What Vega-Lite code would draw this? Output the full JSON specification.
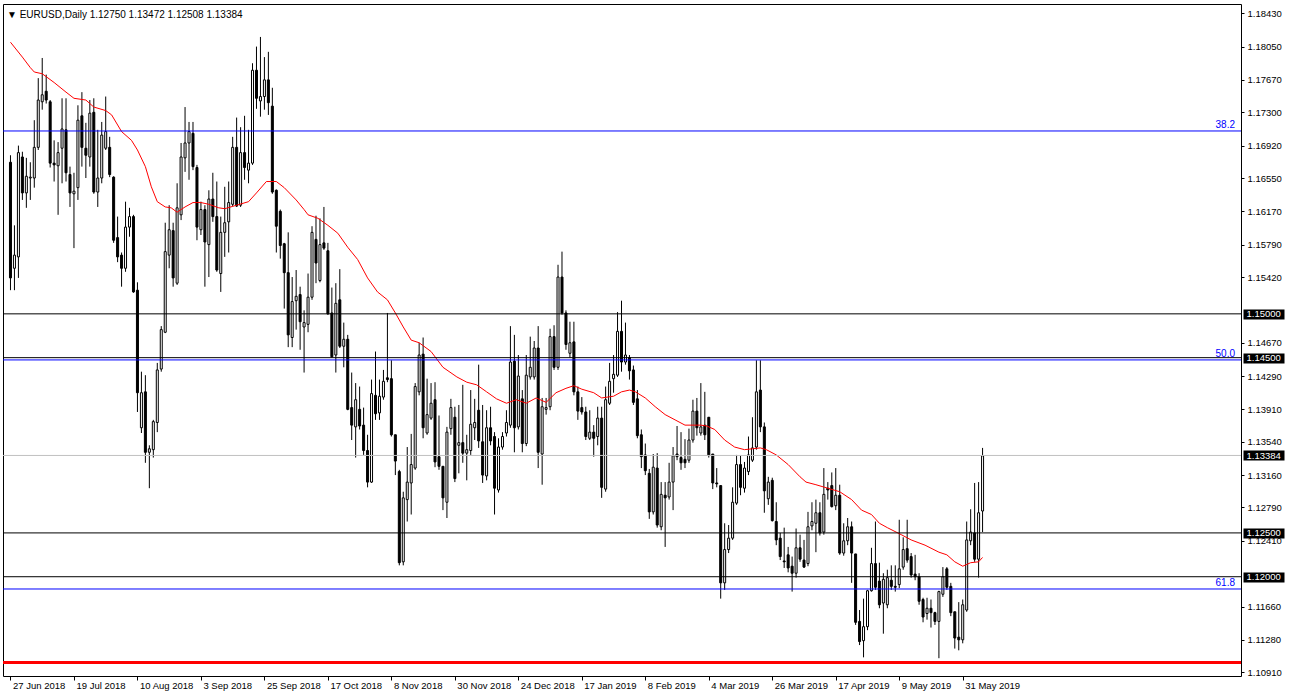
{
"$schema": "https://vega.github.io/schema/vega-lite/v6.json",
"width": 1238, "height": 672,
"autosize": {"type": "none"},
"padding": {"left": 3, "top": 4, "right": 48, "bottom": 22},
"background": "#FFFFFF",
"config": {"view": {"stroke": "#000000", "strokeWidth": 1}, "font": "Liberation Sans"},
"title": {"text": "▼ EURUSD,Daily  1.12750 1.13472 1.12508 1.13384", "anchor": "start", "frame": "group", "orient": "top", "offset": -24, "dx": 4, "font": "Liberation Sans", "fontSize": 10, "fontWeight": "normal", "color": "#000000", "baseline": "alphabetic"},
"datasets": {
"candles": [
{"i":0,"o":1.1673,"h":1.1681,"l":1.1527,"c":1.1541},
{"i":1,"o":1.1552,"h":1.1601,"l":1.1527,"c":1.1567},
{"i":2,"o":1.1565,"h":1.1692,"l":1.1541,"c":1.1684},
{"i":3,"o":1.1679,"h":1.1685,"l":1.1630,"c":1.1638},
{"i":4,"o":1.1638,"h":1.1678,"l":1.1621,"c":1.1657},
{"i":5,"o":1.1655,"h":1.1673,"l":1.1630,"c":1.1656},
{"i":6,"o":1.1655,"h":1.1721,"l":1.1644,"c":1.1690},
{"i":7,"o":1.1690,"h":1.1769,"l":1.1687,"c":1.1744},
{"i":8,"o":1.1742,"h":1.1792,"l":1.1733,"c":1.1750},
{"i":9,"o":1.1754,"h":1.1773,"l":1.1740,"c":1.1744},
{"i":10,"o":1.1742,"h":1.1744,"l":1.1667,"c":1.1672},
{"i":11,"o":1.1672,"h":1.1698,"l":1.1651,"c":1.1670},
{"i":12,"o":1.1669,"h":1.1696,"l":1.1613,"c":1.1684},
{"i":13,"o":1.1689,"h":1.1746,"l":1.1649,"c":1.1711},
{"i":14,"o":1.1710,"h":1.1746,"l":1.1651,"c":1.1661},
{"i":15,"o":1.1659,"h":1.1668,"l":1.1622,"c":1.1638},
{"i":16,"o":1.1637,"h":1.1661,"l":1.1575,"c":1.1640},
{"i":17,"o":1.1644,"h":1.1738,"l":1.1630,"c":1.1721},
{"i":18,"o":1.1726,"h":1.1753,"l":1.1668,"c":1.1690},
{"i":19,"o":1.1689,"h":1.1718,"l":1.1655,"c":1.1681},
{"i":20,"o":1.1679,"h":1.1744,"l":1.1668,"c":1.1729},
{"i":21,"o":1.1730,"h":1.1746,"l":1.1637,"c":1.1639},
{"i":22,"o":1.1639,"h":1.1710,"l":1.1622,"c":1.1655},
{"i":23,"o":1.1655,"h":1.1719,"l":1.1649,"c":1.1704},
{"i":24,"o":1.1689,"h":1.1748,"l":1.1687,"c":1.1708},
{"i":25,"o":1.1690,"h":1.1702,"l":1.1656,"c":1.1659},
{"i":26,"o":1.1656,"h":1.1657,"l":1.1581,"c":1.1584},
{"i":27,"o":1.1587,"h":1.1611,"l":1.1559,"c":1.1565},
{"i":28,"o":1.1567,"h":1.1570,"l":1.1531,"c":1.1552},
{"i":29,"o":1.1552,"h":1.1628,"l":1.1548,"c":1.1599},
{"i":30,"o":1.1599,"h":1.1621,"l":1.1588,"c":1.1611},
{"i":31,"o":1.1611,"h":1.1613,"l":1.1524,"c":1.1525},
{"i":32,"o":1.1527,"h":1.1536,"l":1.1388,"c":1.1410},
{"i":33,"o":1.1370,"h":1.1434,"l":1.1364,"c":1.1410},
{"i":34,"o":1.1411,"h":1.1430,"l":1.1330,"c":1.1342},
{"i":35,"o":1.1342,"h":1.1350,"l":1.1301,"c":1.1346},
{"i":36,"o":1.1345,"h":1.1379,"l":1.1336,"c":1.1377},
{"i":37,"o":1.1376,"h":1.1444,"l":1.1365,"c":1.1436},
{"i":38,"o":1.1437,"h":1.1486,"l":1.1434,"c":1.1482},
{"i":39,"o":1.1479,"h":1.1604,"l":1.1478,"c":1.1571},
{"i":40,"o":1.1567,"h":1.1624,"l":1.1552,"c":1.1596},
{"i":41,"o":1.1595,"h":1.1604,"l":1.1531,"c":1.1541},
{"i":42,"o":1.1535,"h":1.1649,"l":1.1533,"c":1.1621},
{"i":43,"o":1.1613,"h":1.1695,"l":1.1607,"c":1.1679},
{"i":44,"o":1.1678,"h":1.1736,"l":1.1662,"c":1.1695},
{"i":45,"o":1.1695,"h":1.1719,"l":1.1653,"c":1.1708},
{"i":46,"o":1.1706,"h":1.1719,"l":1.1664,"c":1.1668},
{"i":47,"o":1.1667,"h":1.1670,"l":1.1584,"c":1.1599},
{"i":48,"o":1.1596,"h":1.1628,"l":1.1590,"c":1.1619},
{"i":49,"o":1.1619,"h":1.1624,"l":1.1531,"c":1.1582},
{"i":50,"o":1.1579,"h":1.1641,"l":1.1542,"c":1.1631},
{"i":51,"o":1.1631,"h":1.1661,"l":1.1605,"c":1.1611},
{"i":52,"o":1.1611,"h":1.1651,"l":1.1548,"c":1.1550},
{"i":53,"o":1.1546,"h":1.1611,"l":1.1525,"c":1.1593},
{"i":54,"o":1.1593,"h":1.1645,"l":1.1565,"c":1.1604},
{"i":55,"o":1.1605,"h":1.1651,"l":1.1570,"c":1.1627},
{"i":56,"o":1.1625,"h":1.1702,"l":1.1623,"c":1.1690},
{"i":57,"o":1.1690,"h":1.1724,"l":1.1622,"c":1.1623},
{"i":58,"o":1.1624,"h":1.1713,"l":1.1622,"c":1.1684},
{"i":59,"o":1.1684,"h":1.1726,"l":1.1653,"c":1.1667},
{"i":60,"o":1.1664,"h":1.1710,"l":1.1649,"c":1.1672},
{"i":61,"o":1.1672,"h":1.1786,"l":1.1670,"c":1.1778},
{"i":62,"o":1.1778,"h":1.1805,"l":1.1734,"c":1.1746},
{"i":63,"o":1.1743,"h":1.1816,"l":1.1725,"c":1.1748},
{"i":64,"o":1.1748,"h":1.1793,"l":1.1733,"c":1.1767},
{"i":65,"o":1.1767,"h":1.1799,"l":1.1727,"c":1.1741},
{"i":66,"o":1.1737,"h":1.1758,"l":1.1637,"c":1.1639},
{"i":67,"o":1.1641,"h":1.1642,"l":1.1570,"c":1.1600},
{"i":68,"o":1.1617,"h":1.1619,"l":1.1563,"c":1.1578},
{"i":69,"o":1.1580,"h":1.1581,"l":1.1506,"c":1.1547},
{"i":70,"o":1.1547,"h":1.1593,"l":1.1462,"c":1.1476},
{"i":71,"o":1.1473,"h":1.1542,"l":1.1462,"c":1.1514},
{"i":72,"o":1.1515,"h":1.1550,"l":1.1482,"c":1.1520},
{"i":73,"o":1.1522,"h":1.1531,"l":1.1459,"c":1.1491},
{"i":74,"o":1.1485,"h":1.1504,"l":1.1433,"c":1.1490},
{"i":75,"o":1.1488,"h":1.1546,"l":1.1479,"c":1.1519},
{"i":76,"o":1.1519,"h":1.1600,"l":1.1516,"c":1.1593},
{"i":77,"o":1.1585,"h":1.1612,"l":1.1535,"c":1.1558},
{"i":78,"o":1.1538,"h":1.1609,"l":1.1536,"c":1.1579},
{"i":79,"o":1.1581,"h":1.1622,"l":1.1573,"c":1.1575},
{"i":80,"o":1.1572,"h":1.1581,"l":1.1499,"c":1.1500},
{"i":81,"o":1.1501,"h":1.1530,"l":1.1450,"c":1.1451},
{"i":82,"o":1.1453,"h":1.1535,"l":1.1433,"c":1.1512},
{"i":83,"o":1.1516,"h":1.1551,"l":1.1461,"c":1.1463},
{"i":84,"o":1.1463,"h":1.1490,"l":1.1439,"c":1.1471},
{"i":85,"o":1.1471,"h":1.1476,"l":1.1390,"c":1.1391},
{"i":86,"o":1.1393,"h":1.1433,"l":1.1356,"c":1.1373},
{"i":87,"o":1.1371,"h":1.1421,"l":1.1336,"c":1.1402},
{"i":88,"o":1.1391,"h":1.1417,"l":1.1368,"c":1.1372},
{"i":89,"o":1.1373,"h":1.1393,"l":1.1339,"c":1.1344},
{"i":90,"o":1.1344,"h":1.1362,"l":1.1302,"c":1.1308},
{"i":91,"o":1.1308,"h":1.1425,"l":1.1307,"c":1.1409},
{"i":92,"o":1.1407,"h":1.1457,"l":1.1379,"c":1.1386},
{"i":93,"o":1.1387,"h":1.1425,"l":1.1379,"c":1.1406},
{"i":94,"o":1.1405,"h":1.1436,"l":1.1402,"c":1.1423},
{"i":95,"o":1.1427,"h":1.1501,"l":1.1422,"c":1.1425},
{"i":96,"o":1.1426,"h":1.1447,"l":1.1360,"c":1.1362},
{"i":97,"o":1.1362,"h":1.1362,"l":1.1316,"c":1.1332},
{"i":98,"o":1.1320,"h":1.1322,"l":1.1213,"c":1.1216},
{"i":99,"o":1.1217,"h":1.1297,"l":1.1213,"c":1.1290},
{"i":100,"o":1.1288,"h":1.1348,"l":1.1263,"c":1.1308},
{"i":101,"o":1.1307,"h":1.1363,"l":1.1271,"c":1.1328},
{"i":102,"o":1.1324,"h":1.1421,"l":1.1322,"c":1.1417},
{"i":103,"o":1.1411,"h":1.1467,"l":1.1407,"c":1.1453},
{"i":104,"o":1.1454,"h":1.1473,"l":1.1358,"c":1.1370},
{"i":105,"o":1.1364,"h":1.1426,"l":1.1362,"c":1.1385},
{"i":106,"o":1.1381,"h":1.1421,"l":1.1379,"c":1.1398},
{"i":107,"o":1.1402,"h":1.1422,"l":1.1325,"c":1.1331},
{"i":108,"o":1.1337,"h":1.1384,"l":1.1322,"c":1.1326},
{"i":109,"o":1.1326,"h":1.1326,"l":1.1276,"c":1.1290},
{"i":110,"o":1.1285,"h":1.1371,"l":1.1267,"c":1.1365},
{"i":111,"o":1.1369,"h":1.1403,"l":1.1362,"c":1.1393},
{"i":112,"o":1.1382,"h":1.1394,"l":1.1308,"c":1.1312},
{"i":113,"o":1.1350,"h":1.1396,"l":1.1318,"c":1.1353},
{"i":114,"o":1.1353,"h":1.1419,"l":1.1330,"c":1.1341},
{"i":115,"o":1.1341,"h":1.1362,"l":1.1310,"c":1.1345},
{"i":116,"o":1.1344,"h":1.1413,"l":1.1339,"c":1.1374},
{"i":117,"o":1.1370,"h":1.1403,"l":1.1356,"c":1.1376},
{"i":118,"o":1.1390,"h":1.1442,"l":1.1347,"c":1.1355},
{"i":119,"o":1.1354,"h":1.1396,"l":1.1307,"c":1.1316},
{"i":120,"o":1.1315,"h":1.1390,"l":1.1310,"c":1.1370},
{"i":121,"o":1.1370,"h":1.1394,"l":1.1350,"c":1.1355},
{"i":122,"o":1.1360,"h":1.1365,"l":1.1271,"c":1.1301},
{"i":123,"o":1.1299,"h":1.1358,"l":1.1296,"c":1.1348},
{"i":124,"o":1.1348,"h":1.1365,"l":1.1345,"c":1.1360},
{"i":125,"o":1.1364,"h":1.1390,"l":1.1360,"c":1.1376},
{"i":126,"o":1.1373,"h":1.1486,"l":1.1370,"c":1.1445},
{"i":127,"o":1.1446,"h":1.1476,"l":1.1342,"c":1.1370},
{"i":128,"o":1.1371,"h":1.1453,"l":1.1368,"c":1.1429},
{"i":129,"o":1.1403,"h":1.1413,"l":1.1342,"c":1.1352},
{"i":130,"o":1.1352,"h":1.1453,"l":1.1349,"c":1.1430},
{"i":131,"o":1.1428,"h":1.1474,"l":1.1425,"c":1.1439},
{"i":132,"o":1.1428,"h":1.1469,"l":1.1425,"c":1.1461},
{"i":133,"o":1.1461,"h":1.1486,"l":1.1324,"c":1.1342},
{"i":134,"o":1.1340,"h":1.1404,"l":1.1305,"c":1.1394},
{"i":135,"o":1.1391,"h":1.1404,"l":1.1385,"c":1.1393},
{"i":136,"o":1.1394,"h":1.1483,"l":1.1390,"c":1.1474},
{"i":137,"o":1.1474,"h":1.1487,"l":1.1436,"c":1.1439},
{"i":138,"o":1.1439,"h":1.1556,"l":1.1436,"c":1.1542},
{"i":139,"o":1.1542,"h":1.1571,"l":1.1499,"c":1.1501},
{"i":140,"o":1.1501,"h":1.1504,"l":1.1459,"c":1.1465},
{"i":141,"o":1.1455,"h":1.1491,"l":1.1450,"c":1.1467},
{"i":142,"o":1.1468,"h":1.1491,"l":1.1407,"c":1.1411},
{"i":143,"o":1.1411,"h":1.1417,"l":1.1379,"c":1.1389},
{"i":144,"o":1.1393,"h":1.1405,"l":1.1385,"c":1.1388},
{"i":145,"o":1.1388,"h":1.1394,"l":1.1356,"c":1.1360},
{"i":146,"o":1.1358,"h":1.1390,"l":1.1356,"c":1.1365},
{"i":147,"o":1.1365,"h":1.1373,"l":1.1337,"c":1.1358},
{"i":148,"o":1.1360,"h":1.1394,"l":1.1350,"c":1.1381},
{"i":149,"o":1.1381,"h":1.1394,"l":1.1290,"c":1.1302},
{"i":150,"o":1.1300,"h":1.1417,"l":1.1297,"c":1.1402},
{"i":151,"o":1.1398,"h":1.1444,"l":1.1396,"c":1.1423},
{"i":152,"o":1.1426,"h":1.1453,"l":1.1410,"c":1.1431},
{"i":153,"o":1.1430,"h":1.1502,"l":1.1428,"c":1.1480},
{"i":154,"o":1.1480,"h":1.1515,"l":1.1434,"c":1.1445},
{"i":155,"o":1.1445,"h":1.1490,"l":1.1442,"c":1.1453},
{"i":156,"o":1.1450,"h":1.1453,"l":1.1425,"c":1.1435},
{"i":157,"o":1.1436,"h":1.1441,"l":1.1396,"c":1.1399},
{"i":158,"o":1.1403,"h":1.1413,"l":1.1358,"c":1.1361},
{"i":159,"o":1.1362,"h":1.1368,"l":1.1324,"c":1.1337},
{"i":160,"o":1.1339,"h":1.1352,"l":1.1316,"c":1.1321},
{"i":161,"o":1.1318,"h":1.1323,"l":1.1266,"c":1.1274},
{"i":162,"o":1.1274,"h":1.1340,"l":1.1271,"c":1.1325},
{"i":163,"o":1.1324,"h":1.1341,"l":1.1256,"c":1.1259},
{"i":164,"o":1.1257,"h":1.1308,"l":1.1253,"c":1.1294},
{"i":165,"o":1.1293,"h":1.1308,"l":1.1234,"c":1.1290},
{"i":166,"o":1.1291,"h":1.1330,"l":1.1288,"c":1.1308},
{"i":167,"o":1.1308,"h":1.1348,"l":1.1276,"c":1.1338},
{"i":168,"o":1.1340,"h":1.1372,"l":1.1333,"c":1.1337},
{"i":169,"o":1.1336,"h":1.1365,"l":1.1322,"c":1.1330},
{"i":170,"o":1.1334,"h":1.1357,"l":1.1324,"c":1.1330},
{"i":171,"o":1.1333,"h":1.1369,"l":1.1330,"c":1.1356},
{"i":172,"o":1.1356,"h":1.1402,"l":1.1353,"c":1.1389},
{"i":173,"o":1.1389,"h":1.1404,"l":1.1361,"c":1.1370},
{"i":174,"o":1.1364,"h":1.1421,"l":1.1361,"c":1.1371},
{"i":175,"o":1.1373,"h":1.1411,"l":1.1356,"c":1.1362},
{"i":176,"o":1.1382,"h":1.1382,"l":1.1336,"c":1.1339},
{"i":177,"o":1.1340,"h":1.1340,"l":1.1300,"c":1.1307},
{"i":178,"o":1.1307,"h":1.1324,"l":1.1302,"c":1.1306},
{"i":179,"o":1.1304,"h":1.1304,"l":1.1175,"c":1.1193},
{"i":180,"o":1.1193,"h":1.1261,"l":1.1185,"c":1.1231},
{"i":181,"o":1.1231,"h":1.1259,"l":1.1227,"c":1.1244},
{"i":182,"o":1.1244,"h":1.1302,"l":1.1242,"c":1.1285},
{"i":183,"o":1.1284,"h":1.1339,"l":1.1282,"c":1.1328},
{"i":184,"o":1.1328,"h":1.1338,"l":1.1293,"c":1.1302},
{"i":185,"o":1.1301,"h":1.1331,"l":1.1296,"c":1.1324},
{"i":186,"o":1.1320,"h":1.1360,"l":1.1316,"c":1.1339},
{"i":187,"o":1.1333,"h":1.1382,"l":1.1331,"c":1.1347},
{"i":188,"o":1.1348,"h":1.1447,"l":1.1345,"c":1.1411},
{"i":189,"o":1.1413,"h":1.1447,"l":1.1365,"c":1.1371},
{"i":190,"o":1.1371,"h":1.1376,"l":1.1273,"c":1.1298},
{"i":191,"o":1.1289,"h":1.1314,"l":1.1282,"c":1.1308},
{"i":192,"o":1.1310,"h":1.1313,"l":1.1263,"c":1.1264},
{"i":193,"o":1.1263,"h":1.1285,"l":1.1236,"c":1.1242},
{"i":194,"o":1.1244,"h":1.1250,"l":1.1219,"c":1.1223},
{"i":195,"o":1.1218,"h":1.1256,"l":1.1210,"c":1.1217},
{"i":196,"o":1.1225,"h":1.1234,"l":1.1205,"c":1.1210},
{"i":197,"o":1.1212,"h":1.1223,"l":1.1183,"c":1.1204},
{"i":198,"o":1.1204,"h":1.1255,"l":1.1199,"c":1.1233},
{"i":199,"o":1.1233,"h":1.1248,"l":1.1217,"c":1.1220},
{"i":200,"o":1.1219,"h":1.1242,"l":1.1210,"c":1.1211},
{"i":201,"o":1.1215,"h":1.1274,"l":1.1212,"c":1.1257},
{"i":202,"o":1.1258,"h":1.1285,"l":1.1253,"c":1.1263},
{"i":203,"o":1.1261,"h":1.1288,"l":1.1228,"c":1.1273},
{"i":204,"o":1.1273,"h":1.1285,"l":1.1247,"c":1.1250},
{"i":205,"o":1.1251,"h":1.1324,"l":1.1248,"c":1.1294},
{"i":206,"o":1.1301,"h":1.1308,"l":1.1288,"c":1.1299},
{"i":207,"o":1.1304,"h":1.1319,"l":1.1279,"c":1.1280},
{"i":208,"o":1.1281,"h":1.1324,"l":1.1276,"c":1.1293},
{"i":209,"o":1.1293,"h":1.1305,"l":1.1225,"c":1.1227},
{"i":210,"o":1.1227,"h":1.1261,"l":1.1224,"c":1.1241},
{"i":211,"o":1.1241,"h":1.1267,"l":1.1236,"c":1.1257},
{"i":212,"o":1.1257,"h":1.1263,"l":1.1193,"c":1.1227},
{"i":213,"o":1.1226,"h":1.1226,"l":1.1145,"c":1.1148},
{"i":214,"o":1.1149,"h":1.1162,"l":1.1122,"c":1.1126},
{"i":215,"o":1.1127,"h":1.1175,"l":1.1108,"c":1.1143},
{"i":216,"o":1.1143,"h":1.1185,"l":1.1139,"c":1.1184},
{"i":217,"o":1.1184,"h":1.1233,"l":1.1183,"c":1.1215},
{"i":218,"o":1.1215,"h":1.1263,"l":1.1185,"c":1.1188},
{"i":219,"o":1.1195,"h":1.1216,"l":1.1164,"c":1.1168},
{"i":220,"o":1.1170,"h":1.1204,"l":1.1135,"c":1.1197},
{"i":221,"o":1.1168,"h":1.1208,"l":1.1164,"c":1.1199},
{"i":222,"o":1.1196,"h":1.1213,"l":1.1185,"c":1.1189},
{"i":223,"o":1.1189,"h":1.1213,"l":1.1183,"c":1.1188},
{"i":224,"o":1.1191,"h":1.1265,"l":1.1187,"c":1.1209},
{"i":225,"o":1.1211,"h":1.1245,"l":1.1208,"c":1.1231},
{"i":226,"o":1.1232,"h":1.1265,"l":1.1216,"c":1.1219},
{"i":227,"o":1.1223,"h":1.1227,"l":1.1199,"c":1.1202},
{"i":228,"o":1.1203,"h":1.1225,"l":1.1196,"c":1.1200},
{"i":229,"o":1.1200,"h":1.1204,"l":1.1168,"c":1.1172},
{"i":230,"o":1.1174,"h":1.1176,"l":1.1148,"c":1.1154},
{"i":231,"o":1.1158,"h":1.1176,"l":1.1151,"c":1.1164},
{"i":232,"o":1.1164,"h":1.1174,"l":1.1142,"c":1.1159},
{"i":233,"o":1.1159,"h":1.1160,"l":1.1145,"c":1.1149},
{"i":234,"o":1.1149,"h":1.1184,"l":1.1107,"c":1.1183},
{"i":235,"o":1.1180,"h":1.1211,"l":1.1177,"c":1.1200},
{"i":236,"o":1.1209,"h":1.1211,"l":1.1185,"c":1.1188},
{"i":237,"o":1.1189,"h":1.1193,"l":1.1155,"c":1.1159},
{"i":238,"o":1.1160,"h":1.1160,"l":1.1118,"c":1.1130},
{"i":239,"o":1.1131,"h":1.1171,"l":1.1116,"c":1.1128},
{"i":240,"o":1.1128,"h":1.1174,"l":1.1124,"c":1.1168},
{"i":241,"o":1.1162,"h":1.1263,"l":1.1160,"c":1.1242},
{"i":242,"o":1.1241,"h":1.1277,"l":1.1236,"c":1.1251},
{"i":243,"o":1.1250,"h":1.1307,"l":1.1217,"c":1.1220},
{"i":244,"o":1.1220,"h":1.1308,"l":1.1199,"c":1.1273},
{"i":245,"o":1.1275,"h":1.1347,"l":1.1251,"c":1.1338}
],
"ma": [
{"i":0,"v":1.1810},{"i":3,"v":1.1793},{"i":5,"v":1.1781},{"i":6,"v":1.1776},{"i":8,"v":1.1774},{"i":11,"v":1.1764},{"i":14,"v":1.1753},{"i":16,"v":1.1746},{"i":19,"v":1.1744},{"i":21,"v":1.1736},{"i":24,"v":1.1732},{"i":25.5,"v":1.1727},{"i":28,"v":1.1708},{"i":30.5,"v":1.1698},{"i":32,"v":1.1687},{"i":34,"v":1.1668},{"i":35.5,"v":1.1645},{"i":37,"v":1.1628},{"i":39,"v":1.1622},{"i":40.5,"v":1.1621},{"i":42,"v":1.1616},{"i":44,"v":1.1622},{"i":46,"v":1.1627},{"i":48,"v":1.1627},{"i":50,"v":1.1625},{"i":52.5,"v":1.1621},{"i":54,"v":1.1620},{"i":57,"v":1.1624},{"i":60,"v":1.1628},{"i":62,"v":1.1638},{"i":64.5,"v":1.1651},{"i":67,"v":1.1651},{"i":69,"v":1.1644},{"i":72,"v":1.1630},{"i":74,"v":1.1619},{"i":75,"v":1.1613},{"i":77.5,"v":1.1609},{"i":80,"v":1.1601},{"i":82.5,"v":1.1592},{"i":85,"v":1.1576},{"i":87.5,"v":1.1562},{"i":90,"v":1.1541},{"i":92.5,"v":1.1525},{"i":95,"v":1.1516},{"i":97,"v":1.1501},{"i":99,"v":1.1485},{"i":101,"v":1.1470},{"i":103,"v":1.1467},{"i":106,"v":1.1457},{"i":109,"v":1.1439},{"i":112.5,"v":1.1428},{"i":115,"v":1.1422},{"i":117.5,"v":1.1419},{"i":120,"v":1.1411},{"i":122.5,"v":1.1403},{"i":125,"v":1.1398},{"i":127.5,"v":1.1402},{"i":130,"v":1.1398},{"i":132.5,"v":1.1404},{"i":135,"v":1.1399},{"i":137.5,"v":1.1410},{"i":140,"v":1.1415},{"i":142,"v":1.1418},{"i":144,"v":1.1414},{"i":147,"v":1.1410},{"i":149,"v":1.1404},{"i":152,"v":1.1406},{"i":154,"v":1.1411},{"i":156,"v":1.1413},{"i":157.5,"v":1.1411},{"i":160,"v":1.1404},{"i":162.5,"v":1.1394},{"i":165,"v":1.1385},{"i":167.5,"v":1.1379},{"i":170,"v":1.1373},{"i":174,"v":1.1373},{"i":175.5,"v":1.1372},{"i":177.5,"v":1.1368},{"i":180,"v":1.1356},{"i":182.5,"v":1.1348},{"i":185,"v":1.1345},{"i":187,"v":1.1346},{"i":189,"v":1.1347},{"i":190.5,"v":1.1345},{"i":193,"v":1.1339},{"i":196,"v":1.1328},{"i":199,"v":1.1314},{"i":200.5,"v":1.1308},{"i":203,"v":1.1305},{"i":206,"v":1.1301},{"i":209,"v":1.1297},{"i":212,"v":1.1288},{"i":214.5,"v":1.1276},{"i":217,"v":1.1271},{"i":219,"v":1.1261},{"i":221,"v":1.1256},{"i":224.5,"v":1.1248},{"i":227,"v":1.1242},{"i":230.5,"v":1.1236},{"i":234,"v":1.1228},{"i":236,"v":1.1225},{"i":238,"v":1.1217},{"i":240,"v":1.1212},{"i":242,"v":1.1216},{"i":244,"v":1.1217},{"i":245,"v":1.1222}
],
"blackLevels": [{"p":1.15},{"p":1.145},{"p":1.125},{"p":1.12}],
"fibLevels": [{"p":1.17087,"t":"38.2"},{"p":1.14474,"t":"50.0"},{"p":1.1186,"t":"61.8"}],
"priceLevel": [{"p":1.13384}],
"redLevel": [{"p":1.1102}]
},
"resolve": {"axis": {"y": "independent"}},
"layer": [
{
"data": {"name": "candles"},
"mark": {"type": "rule", "color": "#000000", "strokeWidth": 1},
"encoding": {
"x": {"field": "i", "type": "quantitative", "scale": {"domain": [-0.625, 308.875], "nice": false, "zero": false},
"axis": {"orient": "bottom", "values": [0,16,32,48,64,80,96,112,128,144,160,176,192,208,224,240],
"labelExpr": "['27 Jun 2018','19 Jul 2018','10 Aug 2018','3 Sep 2018','25 Sep 2018','17 Oct 2018','8 Nov 2018','30 Nov 2018','24 Dec 2018','17 Jan 2019','8 Feb 2019','4 Mar 2019','26 Mar 2019','17 Apr 2019','9 May 2019','31 May 2019'][round(datum.value/16)]",
"tickSize": 4, "tickColor": "#000000", "labelAlign": "left", "labelBaseline": "top", "labelOffset": 2, "labelPadding": 0,
"labelFont": "Liberation Sans", "labelFontSize": 9.5, "labelColor": "#000000", "domain": false, "grid": false, "title": null,
"labelOverlap": false, "labelBound": false, "labelFlush": false}},
"y": {"field": "l", "type": "quantitative", "scale": {"domain": [1.10867, 1.18536], "nice": false, "zero": false}, "axis": null},
"y2": {"field": "h"}
}
},
{
"data": {"name": "candles"},
"mark": {"type": "bar", "width": 2, "stroke": "#000000", "strokeWidth": 1},
"encoding": {
"x": {"field": "i", "type": "quantitative"},
"y": {"field": "o", "type": "quantitative",
"axis": {"orient": "right", "values": [1.1843,1.1805,1.1767,1.173,1.1692,1.1655,1.1617,1.1579,1.1542,1.1467,1.1429,1.1391,1.1354,1.1316,1.1279,1.1241,1.1166,1.1128,1.1091],
"format": ".5f", "tickSize": 3, "tickColor": "#000000", "labelPadding": 3, "labelFont": "Liberation Sans", "labelFontSize": 9.5,
"labelColor": "#000000", "labelAlign": "left", "labelBaseline": "middle", "domain": false, "grid": false, "title": null,
"labelOverlap": false, "labelBound": false, "labelFlush": false}},
"y2": {"field": "c"},
"fill": {"condition": {"test": "datum.c < datum.o", "value": "#000000"}, "value": "#FFFFFF"}
}
},
{
"data": {"name": "ma"},
"mark": {"type": "line", "color": "#FF0000", "strokeWidth": 1},
"encoding": {
"x": {"field": "i", "type": "quantitative"},
"y": {"field": "v", "type": "quantitative", "axis": null}
}
},
{
"data": {"name": "priceLevel"},
"mark": {"type": "rule", "color": "#C0C0C0", "strokeWidth": 1},
"encoding": {"y": {"field": "p", "type": "quantitative", "axis": null}}
},
{
"data": {"name": "redLevel"},
"mark": {"type": "rule", "color": "#FF0000", "strokeWidth": 3},
"encoding": {"y": {"field": "p", "type": "quantitative", "axis": null}}
},
{
"data": {"name": "fibLevels"},
"mark": {"type": "rule", "color": "#0000FF", "strokeWidth": 1},
"encoding": {"y": {"field": "p", "type": "quantitative", "axis": null}}
},
{
"data": {"name": "fibLevels"},
"mark": {"type": "text", "color": "#0000FF", "align": "right", "baseline": "bottom", "dx": -1, "dy": -1, "font": "Liberation Sans", "fontSize": 10},
"encoding": {
"x": {"datum": 308.875, "type": "quantitative"},
"y": {"field": "p", "type": "quantitative", "axis": null},
"text": {"field": "t"}
}
},
{
"data": {"name": "blackLevels"},
"mark": {"type": "rule", "color": "#000000", "strokeWidth": 1},
"encoding": {"y": {"field": "p", "type": "quantitative",
"axis": {"orient": "right", "values": [1.15, 1.145, 1.13384, 1.125, 1.12], "format": ".5f", "offset": 2,
"tickSize": 41, "tickWidth": 10, "tickColor": "#000000", "tickCap": "butt", "labelColor": "#FFFFFF", "labelPadding": -38,
"labelFont": "Liberation Sans", "labelFontSize": 9.5, "labelAlign": "left", "labelBaseline": "middle",
"domain": false, "grid": false, "title": null, "labelOverlap": false, "labelBound": false, "labelFlush": false}}}
}
]
}
